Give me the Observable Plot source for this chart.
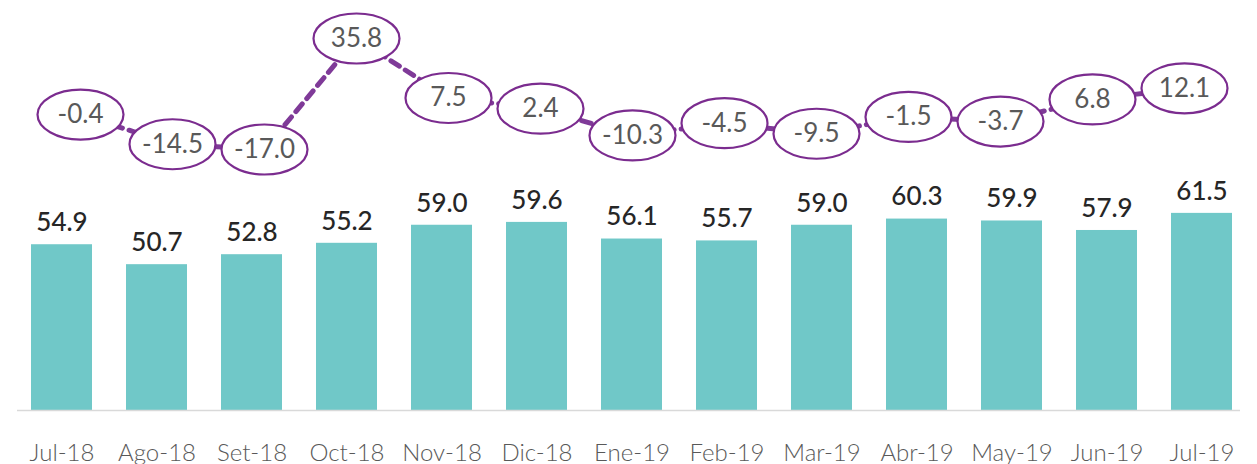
<!DOCTYPE html>
<html>
<head>
<meta charset="utf-8">
<script src="https://cdn.jsdelivr.net/npm/d3@7"></script>
<script src="https://cdn.jsdelivr.net/npm/@observablehq/plot@0.6"></script>
<style>
  html, body { margin: 0; padding: 0; background: #fff; }
  #wrap { position: relative; width: 1257px; height: 464px; }
  #wrap svg { position: absolute; left: 0; top: 0; overflow: visible; }
</style>
</head>
<body>
<div id="wrap"></div>
<script>
const months = ["Jul-18","Ago-18","Set-18","Oct-18","Nov-18","Dic-18","Ene-19","Feb-19","Mar-19","Abr-19","May-19","Jun-19","Jul-19"];
const barValues = [54.9, 50.7, 52.8, 55.2, 59.0, 59.6, 56.1, 55.7, 59.0, 60.3, 59.9, 57.9, 61.5];
const lineValues = [-0.4, -14.5, -17.0, 35.8, 7.5, 2.4, -10.3, -4.5, -9.5, -1.5, -3.7, 6.8, 12.1];

const bars = months.map((m, i) => ({month: m, value: barValues[i]}));
const line = months.map((m, i) => ({month: m, value: lineValues[i]}));

const W = 1257, H = 464;
const FONT = "Lato, 'Open Sans', sans-serif";
const xScale = {domain: months, range: [31, 1232], paddingInner: 0.36, paddingOuter: 0};
const fmt = d => d.toFixed(1);

const barPlot = Plot.plot({
  width: W, height: H,
  marginLeft: 17, marginRight: 17, marginTop: 0, marginBottom: 54,
  style: {fontFamily: FONT, background: "transparent", color: "#595959"},
  x: {...xScale, label: null},
  y: {domain: [20, 70], range: [410, 172.5], axis: null},
  marks: [
    Plot.barY(bars, {x: "month", y1: 20, y2: "value", fill: "#70C8C8"}),
    Plot.ruleY([20], {stroke: "#d9d9d9", strokeWidth: 1.5}),
    Plot.text(bars, {x: "month", y: "value", text: d => fmt(d.value), dy: -22,
      fill: "#262626", fontSize: 26, fontWeight: 500}),
    Plot.axisX({tickSize: 0, tickPadding: 33, fontSize: 24, fontWeight: 300, label: null, fill: "#595959"})
  ]
});

const k = 0.5523, rx = 43, ry = 25;
const ellipse = {
  draw(ctx) {
    ctx.moveTo(rx, 0);
    ctx.bezierCurveTo(rx, ry * k, rx * k, ry, 0, ry);
    ctx.bezierCurveTo(-rx * k, ry, -rx, ry * k, -rx, 0);
    ctx.bezierCurveTo(-rx, -ry * k, -rx * k, -ry, 0, -ry);
    ctx.bezierCurveTo(rx * k, -ry, rx, -ry * k, rx, 0);
    ctx.closePath();
  }
};

const linePlot = Plot.plot({
  width: W, height: H,
  marginLeft: 17, marginRight: 17, marginTop: 0, marginBottom: 54,
  style: {fontFamily: FONT, background: "transparent"},
  x: {...xScale, axis: null},
  y: {domain: [-17, 35.8], range: [149, 38], axis: null},
  marks: [
    Plot.line(line, {x: "month", y: "value", stroke: "#7F3A98", strokeWidth: 5,
      strokeDasharray: "10,7", curve: "linear"}),
    Plot.dot(line, {x: "month", y: "value", symbol: ellipse, r: 10,
      fill: "white", stroke: "#7B2C8F", strokeWidth: 2.2}),
    Plot.text(line, {x: "month", y: "value", text: d => fmt(d.value),
      fill: "#595959", fontSize: 26})
  ]
});

const wrap = document.getElementById("wrap");
wrap.appendChild(barPlot);
wrap.appendChild(linePlot);
</script>
</body>
</html>
